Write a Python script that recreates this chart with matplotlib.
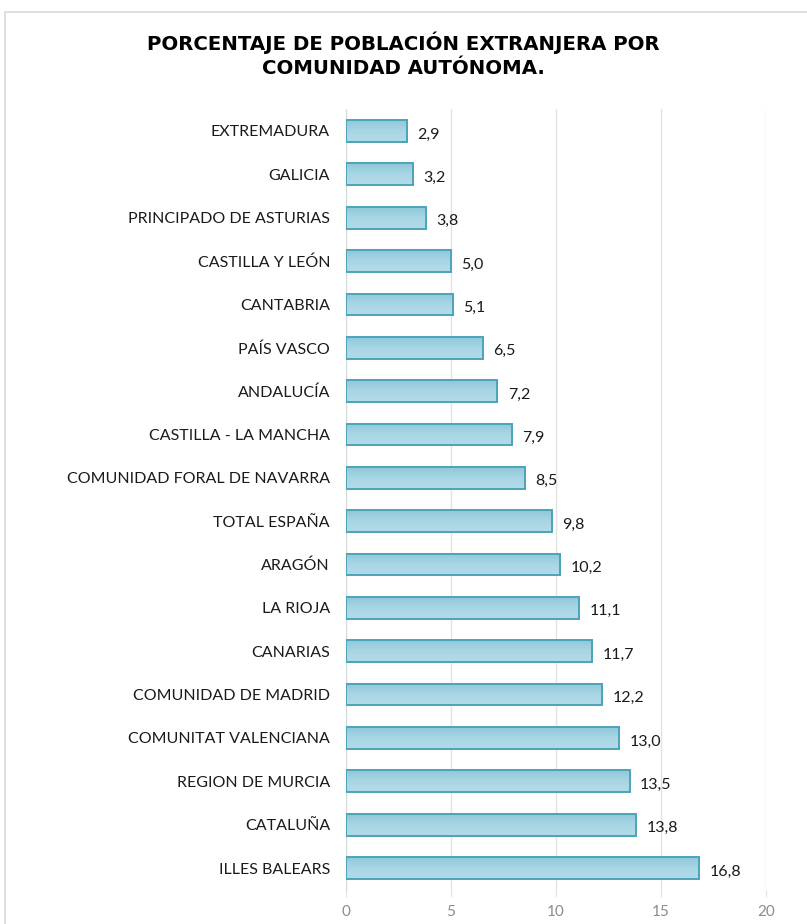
import matplotlib
matplotlib.use("Agg")
import matplotlib.pyplot as plt
import numpy as np
from matplotlib.patches import Rectangle
from matplotlib.colors import LinearSegmentedColormap

categories = ["EXTREMADURA", "GALICIA", "PRINCIPADO DE ASTURIAS", "CASTILLA Y LEÓN",
              "CANTABRIA", "PAÍS VASCO", "ANDALUCÍA", "CASTILLA - LA MANCHA",
              "COMUNIDAD FORAL DE NAVARRA", "TOTAL ESPAÑA", "ARAGÓN", "LA RIOJA",
              "CANARIAS", "COMUNIDAD DE MADRID", "COMUNITAT VALENCIANA",
              "REGION DE MURCIA", "CATALUÑA", "ILLES BALEARS"]
values = [2.9, 3.2, 3.8, 5.0, 5.1, 6.5, 7.2, 7.9, 8.5, 9.8, 10.2, 11.1, 11.7,
          12.2, 13.0, 13.5, 13.8, 16.8]
xticks = [0, 5, 10, 15, 20]
title = "PORCENTAJE DE POBLACIÓN EXTRANJERA POR\nCOMUNIDAD AUTÓNOMA."

W, H = 807, 924
fig = plt.figure(figsize=(W / 100, H / 100), dpi=100)
fig.patch.set_facecolor("white")

# outer chart border
fig.patches.append(Rectangle((5 / W, -0.01), 1.02, 1 - 12 / H + 0.01,
                             transform=fig.transFigure, fill=False,
                             edgecolor="#d9d9d9", linewidth=1.2))

ax = fig.add_axes([346 / W, 1 - 889.7 / H, 420 / W, (889.7 - 109.3) / H])
y = np.arange(len(categories))
bars = ax.barh(y, values, height=0.5, color="none", edgecolor="#4ba3ba",
               linewidth=1.4, zorder=3)

grad = np.linspace(0, 1, 64).reshape(-1, 1)
cmap = LinearSegmentedColormap.from_list("g", ["#8fc8d9", "#a9d6e4", "#b3dbe8"])
for b in bars:
    x0, y0 = b.get_x(), b.get_y()
    w, h = b.get_width(), b.get_height()
    im = ax.imshow(grad, extent=(x0, x0 + w, y0 + h, y0), aspect="auto",
                   cmap=cmap, zorder=2, origin="upper")
    im.set_clip_path(b)

for yi, v in zip(y, values):
    ax.text(v + 0.5, yi + 0.08, f"{v:.1f}".replace(".", ","), va="center",
            ha="left", fontsize=11.5, family="Lato", color="#1a1a1a")

ax.set_xlim(0, 20)
ax.set_ylim(len(categories) - 0.5, -0.5)
ax.set_yticks(y)
ax.set_yticklabels(categories, fontsize=11.5, family="Lato", color="#1a1a1a")
ax.set_xticks(xticks)
ax.set_xticklabels([str(t) for t in xticks], fontsize=11, family="Lato",
                   color="#8c8c8c")
ax.tick_params(axis="y", length=0, pad=11.5)
ax.tick_params(axis="x", length=5, color="#e3e3e3", pad=6)
ax.grid(axis="x", color="#e3e3e3", linewidth=1, zorder=0)
for s in ["top", "right", "bottom"]:
    ax.spines[s].set_visible(False)
ax.spines["left"].set_color("#d9d9d9")
ax.set_facecolor("none")

fig.text(0.5, 1 - 54.5 / H, title, ha="center", va="center", fontsize=14.2,
         fontweight="bold", family="DejaVu Sans", color="black",
         linespacing=1.3)

fig.savefig("out.png", dpi=100)
